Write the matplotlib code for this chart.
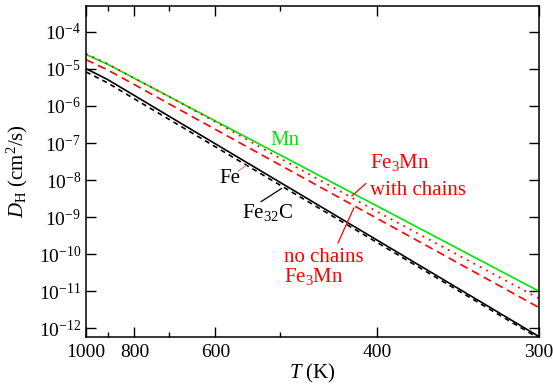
import numpy as np
import matplotlib
matplotlib.use("Agg")
import matplotlib.pyplot as plt
from matplotlib.ticker import FixedLocator, NullFormatter

plt.rcParams['font.family'] = ['Liberation Serif', 'DejaVu Serif']
plt.rcParams['mathtext.fontset'] = 'custom'
plt.rcParams['mathtext.rm'] = 'Liberation Serif'
plt.rcParams['mathtext.it'] = 'Liberation Serif:italic'

# temperatures (K) and diffusion coefficients (cm^2/s)
T_K = np.array([1000, 900, 800, 700, 600, 500, 400, 300])
D_Mn = [2.45e-5, 1.34e-5, 5.56e-6, 1.79e-6, 3.94e-7, 4.78e-8, 2.00e-9, 1.01e-11]
D_Fe3Mn_chains = [2.57e-5, 1.37e-5, 5.56e-6, 1.78e-6, 3.72e-7, 3.89e-8, 1.41e-9, 6.46e-12]
D_Fe3Mn_nochains = [1.78e-5, 9.42e-6, 3.76e-6, 1.14e-6, 2.34e-7, 2.56e-8, 9.25e-10, 3.66e-12]
D_Fe = [1.02e-5, 5.18e-6, 1.91e-6, 5.27e-7, 9.53e-8, 8.71e-9, 2.40e-10, 6.04e-13]
D_Fe32C = [8.32e-6, 4.21e-6, 1.55e-6, 4.34e-7, 7.93e-8, 7.33e-9, 2.07e-10, 5.38e-13]

major_T = [1000, 800, 600, 400, 300]
minor_T = [900, 700, 500]
y_decades = list(range(-12, -3))

RED = '#ff0000'
GREEN = '#00e600'

fig = plt.figure(figsize=(5.53, 3.84), dpi=100)
ax = fig.add_axes([0.1555, 0.1224, 0.8185, 0.862])

x = 1000.0 / T_K
ax.plot(x, D_Mn, color=GREEN, lw=1.2)
ax.plot(x, D_Fe3Mn_chains, color=RED, lw=1.3, ls=(0, (1, 3)))
ax.plot(x, D_Fe3Mn_nochains, color=RED, lw=1.2, ls=(0, (5, 3)))
ax.plot(x, D_Fe, color='black', lw=1.2)
ax.plot(x, D_Fe32C, color='black', lw=1.2, ls=(0, (3, 2.5)))

ax.set_yscale('log')
ax.set_xlim(1.0, 1000.0 / 300)
ax.set_ylim(5.8e-13, 5.0e-4)

ax.xaxis.set_major_locator(FixedLocator([1000.0 / t for t in major_T]))
ax.xaxis.set_minor_locator(FixedLocator([1000.0 / t for t in minor_T]))
ax.set_xticklabels([str(t) for t in major_T])
ax.xaxis.set_minor_formatter(NullFormatter())

ax.yaxis.set_major_locator(FixedLocator([10.0 ** d for d in y_decades]))
ax.yaxis.set_minor_locator(FixedLocator([]))
ax.set_yticklabels([r'$\mathregular{10^{%d}}$' % d for d in y_decades])

ax.tick_params(which='both', direction='in', top=True, right=True, labelsize=14, width=1.0)
ax.tick_params(which='major', length=7)
ax.tick_params(which='minor', length=3.5)
ax.tick_params(axis='x', pad=5)
for s in ax.spines.values():
    s.set_linewidth(1.1)

ax.set_xlabel(r'$T$ (K)', fontsize=15, labelpad=1)
ax.set_ylabel(r'$D_{\mathrm{H}}$ (cm$^2$/s)', fontsize=15, labelpad=6)

# labels and leader lines (x = 1000/T, y = D)
fs = 15
ax.text(2.026, 1.2e-7, 'Mn', color=GREEN, fontsize=fs, ha='center', va='center')
ax.text(1.742, 1.1e-8, 'Fe', color='black', fontsize=fs, ha='center', va='center')
ax.annotate('', xy=(1.828, 2.5e-8), xytext=(1.785, 1.78e-8),
            arrowprops=dict(arrowstyle='-', color='#e07070', lw=0.7, shrinkA=0, shrinkB=0))
ax.text(1.803, 9.3e-10, r'Fe$_{32}$C', color='black', fontsize=fs, ha='left', va='baseline')
ax.annotate('', xy=(2.009, 5.97e-9), xytext=(1.902, 2.6e-9),
            arrowprops=dict(arrowstyle='-', color='black', lw=0.9, shrinkA=0, shrinkB=0))
ax.text(2.464, 2.1e-8, r'Fe$_3$Mn', color=RED, fontsize=fs, ha='left', va='baseline')
ax.text(2.464, 3.9e-9, 'with chains', color=RED, fontsize=fs, ha='left', va='baseline')
ax.annotate('', xy=(2.370, 3.7e-9), xytext=(2.443, 8.1e-9),
            arrowprops=dict(arrowstyle='-', color=RED, lw=0.9, shrinkA=0, shrinkB=0))
ax.text(2.021, 6.2e-11, 'no chains', color=RED, fontsize=fs, ha='left', va='baseline')
ax.text(2.021, 1.78e-11, r'Fe$_3$Mn', color=RED, fontsize=fs, ha='left', va='baseline')
ax.annotate('', xy=(2.381, 1.78e-9), xytext=(2.299, 2.0e-10),
            arrowprops=dict(arrowstyle='-', color=RED, lw=0.9, shrinkA=0, shrinkB=0))

fig.savefig('out.png', dpi=100)
